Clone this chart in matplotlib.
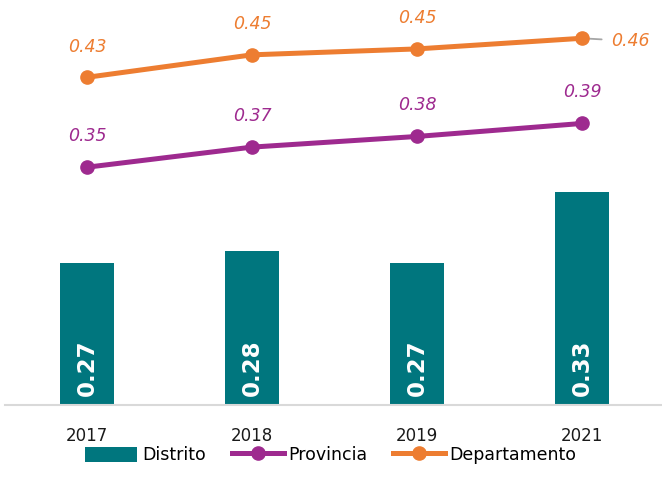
import matplotlib
matplotlib.use("Agg")
import matplotlib.pyplot as plt
import numpy as np

years = ["2017", "2018", "2019", "2021"]
distrito = [0.27, 0.28, 0.27, 0.33]
provincia = [0.351, 0.368, 0.377, 0.388]
departamento = [0.427, 0.446, 0.451, 0.460]

teal = "#00767E"
purple = "#9E2A8F"
orange = "#ED7D31"

fig = plt.figure(figsize=(6.62, 4.93), dpi=100)
ax = fig.add_axes([4.5/662, (493-405)/493, 660/662, 405/493])
x = np.arange(len(years))

b = ax.bar(x, distrito, width=0.327, color=teal, bottom=0, label="Distrito", zorder=2)
lp, = ax.plot(x, provincia, color=purple, lw=3.6, marker="o", ms=9.5, label="Provincia", zorder=3)
ld, = ax.plot(x, departamento, color=orange, lw=3.6, marker="o", ms=9.5, label="Departamento", zorder=3)

ax.set_ylim(0.15, 0.15 + 405/1183)
ax.set_xlim(-0.5, 3.5)

for xi, v in zip(x, distrito):
    ax.text(xi, 0.1575, f"{v:.2f}", rotation=90, ha="center", va="bottom",
            color="white", fontsize=16.5, fontweight="bold", zorder=4)

for xi, v in zip(x, provincia):
    ax.annotate(f"{v:.2f}", (xi, v), xytext=(0, 22.5), textcoords="offset points",
                ha="center", va="center", color=purple, fontsize=12.5, style="italic")

for i, (xi, v) in enumerate(zip(x, departamento)):
    if i == len(x) - 1:
        ax.annotate(f"{v:.2f}", (xi, v), xytext=(35, -2), textcoords="offset points",
                    ha="center", va="center", color=orange, fontsize=12.5, style="italic",
                    arrowprops=dict(arrowstyle="-", color="#A6A6A6", lw=1.3,
                                    shrinkA=5, shrinkB=0), zorder=2)
    else:
        ax.annotate(f"{v:.2f}", (xi, v), xytext=(0, 22), textcoords="offset points",
                    ha="center", va="center", color=orange, fontsize=12.5, style="italic")

for s in ["top", "right", "left"]:
    ax.spines[s].set_visible(False)
ax.spines["bottom"].set_color("#D9D9D9")
ax.spines["bottom"].set_linewidth(1.5)
ax.set_yticks([])
ax.set_xticks(x)
ax.set_xticklabels(years, fontsize=12, color="#1A1A1A")
ax.tick_params(axis="x", length=0, pad=16)

leg = fig.legend(handles=[b, lp, ld], loc="center", bbox_to_anchor=(0.5, 1 - 455/493), ncol=3,
                 frameon=False, fontsize=12.5, handlelength=3.0, handleheight=0.95,
                 handletextpad=0.25, columnspacing=1.5)

fig.savefig("out.png", dpi=100)
